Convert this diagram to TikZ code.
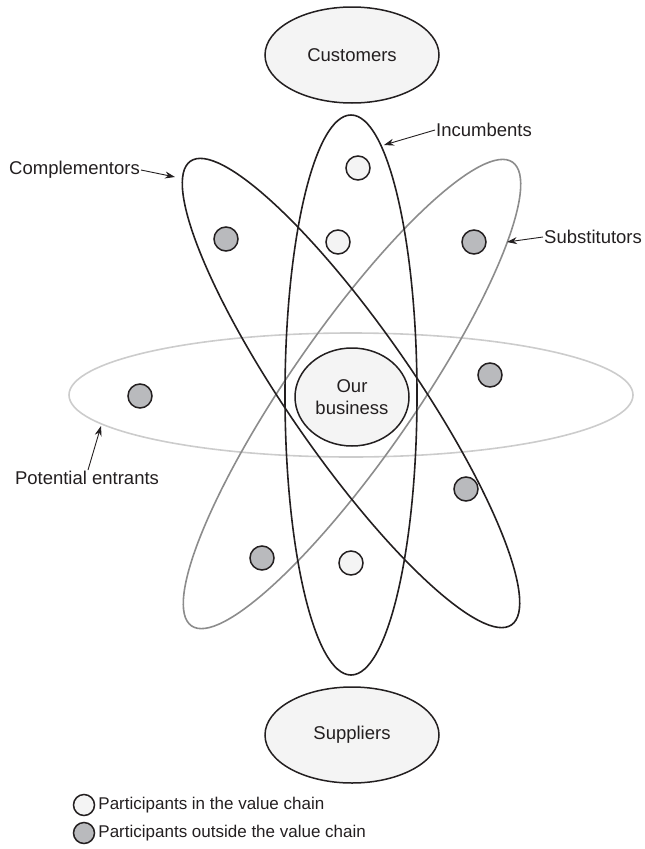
\documentclass[tikz,border=0pt]{standalone}
\usepackage{fontspec}
\setmainfont{Liberation Sans}
\usetikzlibrary{shapes.geometric,arrows.meta}
\definecolor{ink}{HTML}{231F20}
\definecolor{paper}{HTML}{F4F4F4}
\definecolor{outsidefill}{HTML}{B9BABD}
\definecolor{substline}{HTML}{8C8C8C}
\definecolor{entrantline}{HTML}{CCCCCC}

\begin{document}
\begin{tikzpicture}[x=1pt,y=1pt,
  orbit/.style={line width=1.6pt},
  party/.style={ellipse, draw=ink, line width=1.5pt, fill=paper,
    minimum width=174pt, minimum height=96pt, inner sep=0pt,
    font=\fontsize{18.5}{22}\selectfont, text=ink},
  inside/.style={circle, draw=ink, line width=1.5pt, fill=paper,
    minimum size=24pt, inner sep=0pt},
  outsider/.style={inside, fill=outsidefill},
  lbl/.style={font=\fontsize{18.5}{22}\selectfont, text=ink, inner sep=1pt},
  keytext/.style={font=\fontsize{17}{20}\selectfont, text=ink, inner sep=0pt, anchor=west},
  pointer/.style={-{Stealth[length=10pt,width=7pt]}, line width=0.9pt, draw=ink}
]
\useasboundingbox (0,0) rectangle (645,-849);

% orbits of the competitive groups
\draw[orbit, entrantline] (351,-395) ellipse [x radius=282, y radius=62];
\draw[orbit, substline, rotate around={55.3:(352,-394)}] (352,-394) ellipse [x radius=282, y radius=63];
\draw[orbit, ink, rotate around={-55.3:(351,-393)}] (351,-393) ellipse [x radius=282, y radius=63];
\draw[orbit, ink] (351,-395) ellipse [x radius=66, y radius=280];

% the business at the centre, with customers and suppliers
\node[party, minimum width=114pt, minimum height=98pt, align=center] (biz) at (352,-397) {Our\\business};
\node[party] (cust) at (352,-55) {Customers};
\node[party] (supp) at (352,-735) {Suppliers};

% participants
\node[inside] (in1) at (358,-168) {};
\node[inside] (in2) at (338,-242) {};
\node[inside] (in3) at (351,-563) {};
\node[outsider] (out1) at (226,-239) {};
\node[outsider] (out2) at (474,-242) {};
\node[outsider] (out3) at (490,-375) {};
\node[outsider] (out4) at (140,-396) {};
\node[outsider] (out5) at (466,-489) {};
\node[outsider] (out6) at (262,-558) {};

% group labels and their pointers
\node[lbl, anchor=west] (inclbl) at (435,-130) {Incumbents};
\node[lbl, anchor=east] (complbl) at (141,-170) {Complementors};
\node[lbl, anchor=west] (sublbl) at (543,-237) {Substitutors};
\node[lbl] (potlbl) at (87,-478) {Potential entrants};
\coordinate (inctip) at (384,-145);
\coordinate (comptip) at (175,-177);
\coordinate (subtip) at (507,-242);
\coordinate (pottip) at (101,-426);
\draw[pointer] (inclbl.west) -- (inctip);
\draw[pointer] (complbl.east) -- (comptip);
\draw[pointer] (sublbl.west) -- (subtip);
\draw[pointer] (potlbl.north) ++(1,0) -- (pottip);

% key
\node[inside, minimum size=21pt] (keyin) at (84,-805) {};
\node[outsider, minimum size=21pt] (keyout) at (84,-833) {};
\node[keytext] (keyintext) at ([xshift=3pt]keyin.east) {Participants in the value chain};
\node[keytext] (keyouttext) at ([xshift=3pt]keyout.east) {Participants outside the value chain};
\end{tikzpicture}
\end{document}
